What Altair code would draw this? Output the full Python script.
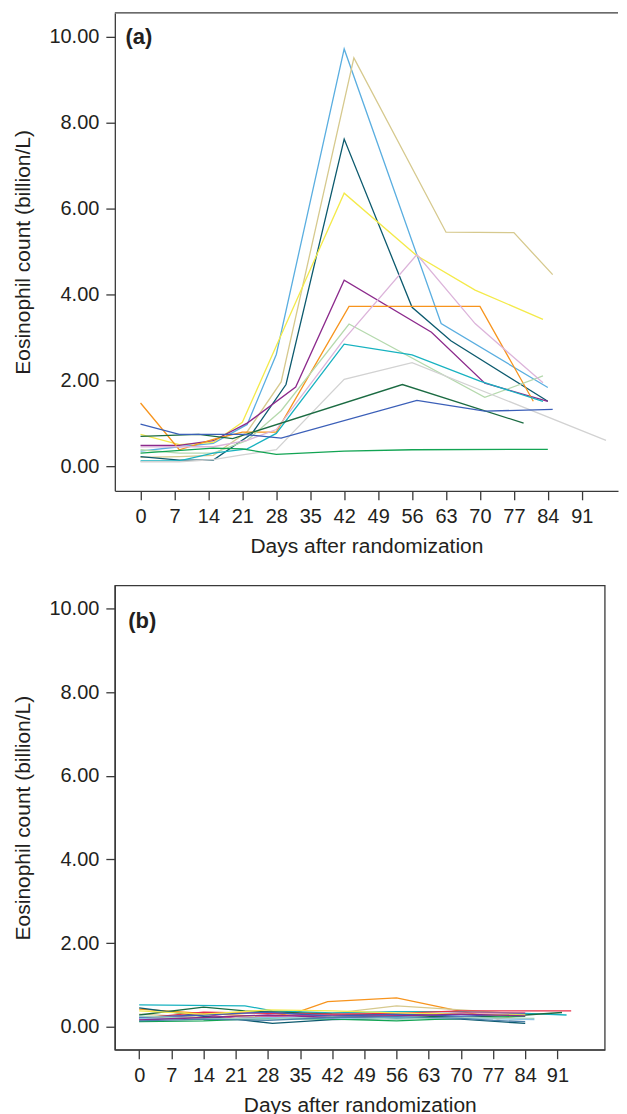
import altair as alt
import pandas as pd

# ---------------- Panel (a) data ----------------
a_names = ["lightblue", "khaki", "darkteal", "yellow", "purple", "orange",
           "lightgreen", "cyan", "pink", "gray", "darkgreen", "royalblue", "brightgreen"]
a_colors = ["#5aaee0", "#d6c98e", "#0c5a6e", "#f4ea4a", "#8c2a8c", "#f7941d",
            "#b5d9ad", "#17b2c0", "#dcb4da", "#d2d2d2", "#1b6b42", "#3b5fb8", "#12a453"]
a_days = {
    "lightblue":   [0, 8, 15, 22, 28, 42, 62, 84],
    "khaki":       [0, 8, 15, 22, 29, 44, 63, 77, 85],
    "darkteal":    [0, 8, 15, 23, 30, 42, 56, 64, 84],
    "yellow":      [0, 8, 15, 21, 42, 57, 69, 83],
    "purple":      [0, 8, 15, 22, 32, 42, 60, 71, 84],
    "orange":      [0, 8, 15, 21, 28, 43, 70, 81],
    "lightgreen":  [0, 8, 15, 22, 29, 43, 71, 83],
    "cyan":        [0, 8, 15, 22, 28, 42, 56, 70, 83],
    "pink":        [0, 8, 15, 22, 28, 42, 57, 69, 83],
    "gray":        [0, 8, 15, 21, 28, 42, 56, 96],
    "darkgreen":   [0, 12, 19, 54, 79],
    "royalblue":   [0, 8, 21, 29, 57, 71, 85],
    "brightgreen": [0, 15, 21, 28, 42, 56, 84],
}
a_vals = {
    "lightblue":   [0.35, 0.45, 0.53, 0.97, 2.60, 9.72, 3.32, 1.83],
    "khaki":       [0.20, 0.22, 0.25, 0.80, 1.96, 9.51, 5.45, 5.44, 4.46],
    "darkteal":    [0.22, 0.14, 0.14, 0.76, 1.90, 7.62, 3.70, 2.92, 1.51],
    "yellow":      [0.74, 0.50, 0.55, 1.02, 6.36, 4.90, 4.10, 3.42],
    "purple":      [0.48, 0.48, 0.59, 1.00, 1.84, 4.33, 3.12, 1.93, 1.51],
    "orange":      [1.47, 0.38, 0.62, 0.79, 0.79, 3.72, 3.72, 1.51],
    "lightgreen":  [0.38, 0.30, 0.30, 0.60, 1.29, 3.31, 1.60, 2.10],
    "cyan":        [0.12, 0.12, 0.30, 0.40, 0.76, 2.84, 2.59, 1.98, 1.51],
    "pink":        [0.45, 0.45, 0.45, 0.60, 0.85, 2.96, 4.93, 3.32, 1.94],
    "gray":        [0.10, 0.10, 0.15, 0.26, 0.38, 2.02, 2.41, 0.60],
    "darkgreen":   [0.69, 0.74, 0.64, 1.90, 1.00],
    "royalblue":   [0.98, 0.74, 0.74, 0.65, 1.53, 1.28, 1.32],
    "brightgreen": [0.30, 0.42, 0.40, 0.27, 0.35, 0.38, 0.39],
}

# ---------------- Panel (b) data ----------------
b_names = ["orange_b", "tan_b", "cyan_b", "darkgreen_b", "darkteal_b", "red_b", "magenta_b",
           "blue_b", "green_b", "yellow_b", "lightblue_b", "seafoam_b", "purple_b", "steel_b"]
b_colors = ["#f7941d", "#d6c98e", "#17b2c0", "#1b6b42", "#0c5a6e", "#e8304a", "#d24a8c",
            "#3b5fb8", "#12a453", "#f4ea4a", "#8ec3e6", "#9fd3c0", "#8c2a8c", "#4a7fa8"]
b_days = {
    "orange_b":    [0, 14, 28, 34, 41, 56, 69, 78, 84],
    "tan_b":       [0, 14, 28, 42, 56, 70, 84],
    "cyan_b":      [0, 23, 29, 42, 56, 70, 84, 93],
    "darkgreen_b": [0, 14, 23, 42, 56, 70, 84, 92],
    "darkteal_b":  [0, 14, 21, 29, 42, 56, 70, 84],
    "red_b":       [0, 14, 28, 42, 56, 70, 94],
    "magenta_b":   [0, 14, 21, 35, 56, 70, 84],
    "blue_b":      [0, 14, 28, 42, 56, 70, 84],
    "green_b":     [0, 14, 28, 42, 56, 70, 84],
    "yellow_b":    [0, 14, 28, 42, 56, 70, 84],
    "lightblue_b": [0, 14, 28, 42, 56, 70, 86],
    "seafoam_b":   [0, 14, 28, 42, 56, 70, 86],
    "purple_b":    [0, 14, 28, 42, 56, 70, 84],
    "steel_b":     [0, 14, 28, 42, 56, 70, 77, 84],
}
b_vals = {
    "orange_b":    [0.42, 0.32, 0.24, 0.33, 0.60, 0.69, 0.39, 0.19, 0.28],
    "tan_b":       [0.30, 0.22, 0.25, 0.32, 0.50, 0.40, 0.30],
    "cyan_b":      [0.52, 0.50, 0.38, 0.33, 0.36, 0.36, 0.32, 0.28],
    "darkgreen_b": [0.28, 0.47, 0.38, 0.30, 0.28, 0.22, 0.28, 0.34],
    "darkteal_b":  [0.45, 0.25, 0.18, 0.08, 0.17, 0.20, 0.18, 0.08],
    "red_b":       [0.20, 0.35, 0.32, 0.30, 0.32, 0.38, 0.38],
    "magenta_b":   [0.18, 0.30, 0.20, 0.28, 0.27, 0.33, 0.33],
    "blue_b":      [0.22, 0.28, 0.35, 0.25, 0.30, 0.25, 0.30],
    "green_b":     [0.12, 0.14, 0.20, 0.18, 0.14, 0.20, 0.25],
    "yellow_b":    [0.38, 0.30, 0.40, 0.38, 0.33, 0.30, 0.28],
    "lightblue_b": [0.20, 0.18, 0.22, 0.20, 0.22, 0.20, 0.17],
    "seafoam_b":   [0.25, 0.20, 0.18, 0.24, 0.18, 0.22, 0.20],
    "purple_b":    [0.16, 0.22, 0.28, 0.22, 0.26, 0.30, 0.26],
    "steel_b":     [0.14, 0.18, 0.15, 0.22, 0.24, 0.20, 0.15, 0.12],
}

x_ticks = [0, 7, 14, 21, 28, 35, 42, 49, 56, 63, 70, 77, 84, 91]
y_ticks = [0, 2, 4, 6, 8, 10]


def long_df(names, days, vals):
    rows = []
    for n in names:
        for d, v in zip(days[n], vals[n]):
            rows.append({"id": n, "day": d, "value": v})
    return pd.DataFrame(rows)


df_a = long_df(a_names, a_days, a_vals)
df_b = long_df(b_names, b_days, b_vals)

FONT = "Liberation Sans"
INK = "#231f20"
FRAME = "#3a3a3a"


def x_axis():
    return alt.Axis(values=x_ticks, title="Days after randomization", grid=False,
                    tickSize=9, labelPadding=7, titlePadding=9,
                    labelFontSize=20, titleFontSize=21, labelFont=FONT, titleFont=FONT,
                    labelColor=INK, titleColor=INK, titleFontWeight="normal",
                    domainColor=FRAME, tickColor=FRAME, domainWidth=1.3, tickWidth=1.3,
                    labelOverlap=False, labelFlush=False)


def y_axis():
    return alt.Axis(values=y_ticks, format=".2f", title="Eosinophil count (billion/L)",
                    grid=False, tickSize=9, labelPadding=7, titlePadding=15.5,
                    labelFontSize=20, titleFontSize=21, labelFont=FONT, titleFont=FONT,
                    labelColor=INK, titleColor=INK, titleFontWeight="normal",
                    domainColor=FRAME, tickColor=FRAME, domainWidth=1.3, tickWidth=1.3)


def panel(df, names, colors, xdom, ydom, w, h, label, lx, ly, top_rule):
    lines = alt.Chart(df).mark_line(strokeWidth=1.3).encode(
        x=alt.X("day:Q", scale=alt.Scale(domain=xdom, nice=False, zero=False), axis=x_axis()),
        y=alt.Y("value:Q", scale=alt.Scale(domain=ydom, nice=False, zero=False), axis=y_axis()),
        color=alt.Color("id:N", scale=alt.Scale(domain=names, range=colors), legend=None),
    )
    txt = alt.Chart(pd.DataFrame({"t": [label]})).mark_text(
        align="left", baseline="alphabetic", fontSize=22, fontWeight="bold", font=FONT, color=INK
    ).encode(text="t:N", x=alt.value(lx), y=alt.value(ly))
    layers = [lines, txt]
    if top_rule:
        rule = alt.Chart(pd.DataFrame({"r": [0]})).mark_rule(color=FRAME, strokeWidth=1.3).encode(
            x=alt.value(0), x2=alt.value(w), y=alt.value(0))
        layers.append(rule)
    return alt.layer(*layers).properties(width=w, height=h)


chart_a = panel(df_a, a_names, a_colors, [-5.3, 98.47], [-0.577, 10.56], 504, 478.7,
                "(a)", 10.6, 31.2, True).properties(view=alt.ViewBackground(strokeOpacity=0))
chart_b = panel(df_b, b_names, b_colors, [-5.3, 101.3], [-0.55, 10.55], 490.7, 465,
                "(b)", 13.4, 42.3, False)

chart = alt.vconcat(chart_a, chart_b, spacing=27.5).resolve_scale(color="independent").properties(
    padding={"left": 3, "top": 3, "right": 0, "bottom": 0},
    background="white",
).configure_view(stroke=FRAME, strokeWidth=1.3)

chart.save("out.html", embed_options={"renderer": "svg", "actions": False})
